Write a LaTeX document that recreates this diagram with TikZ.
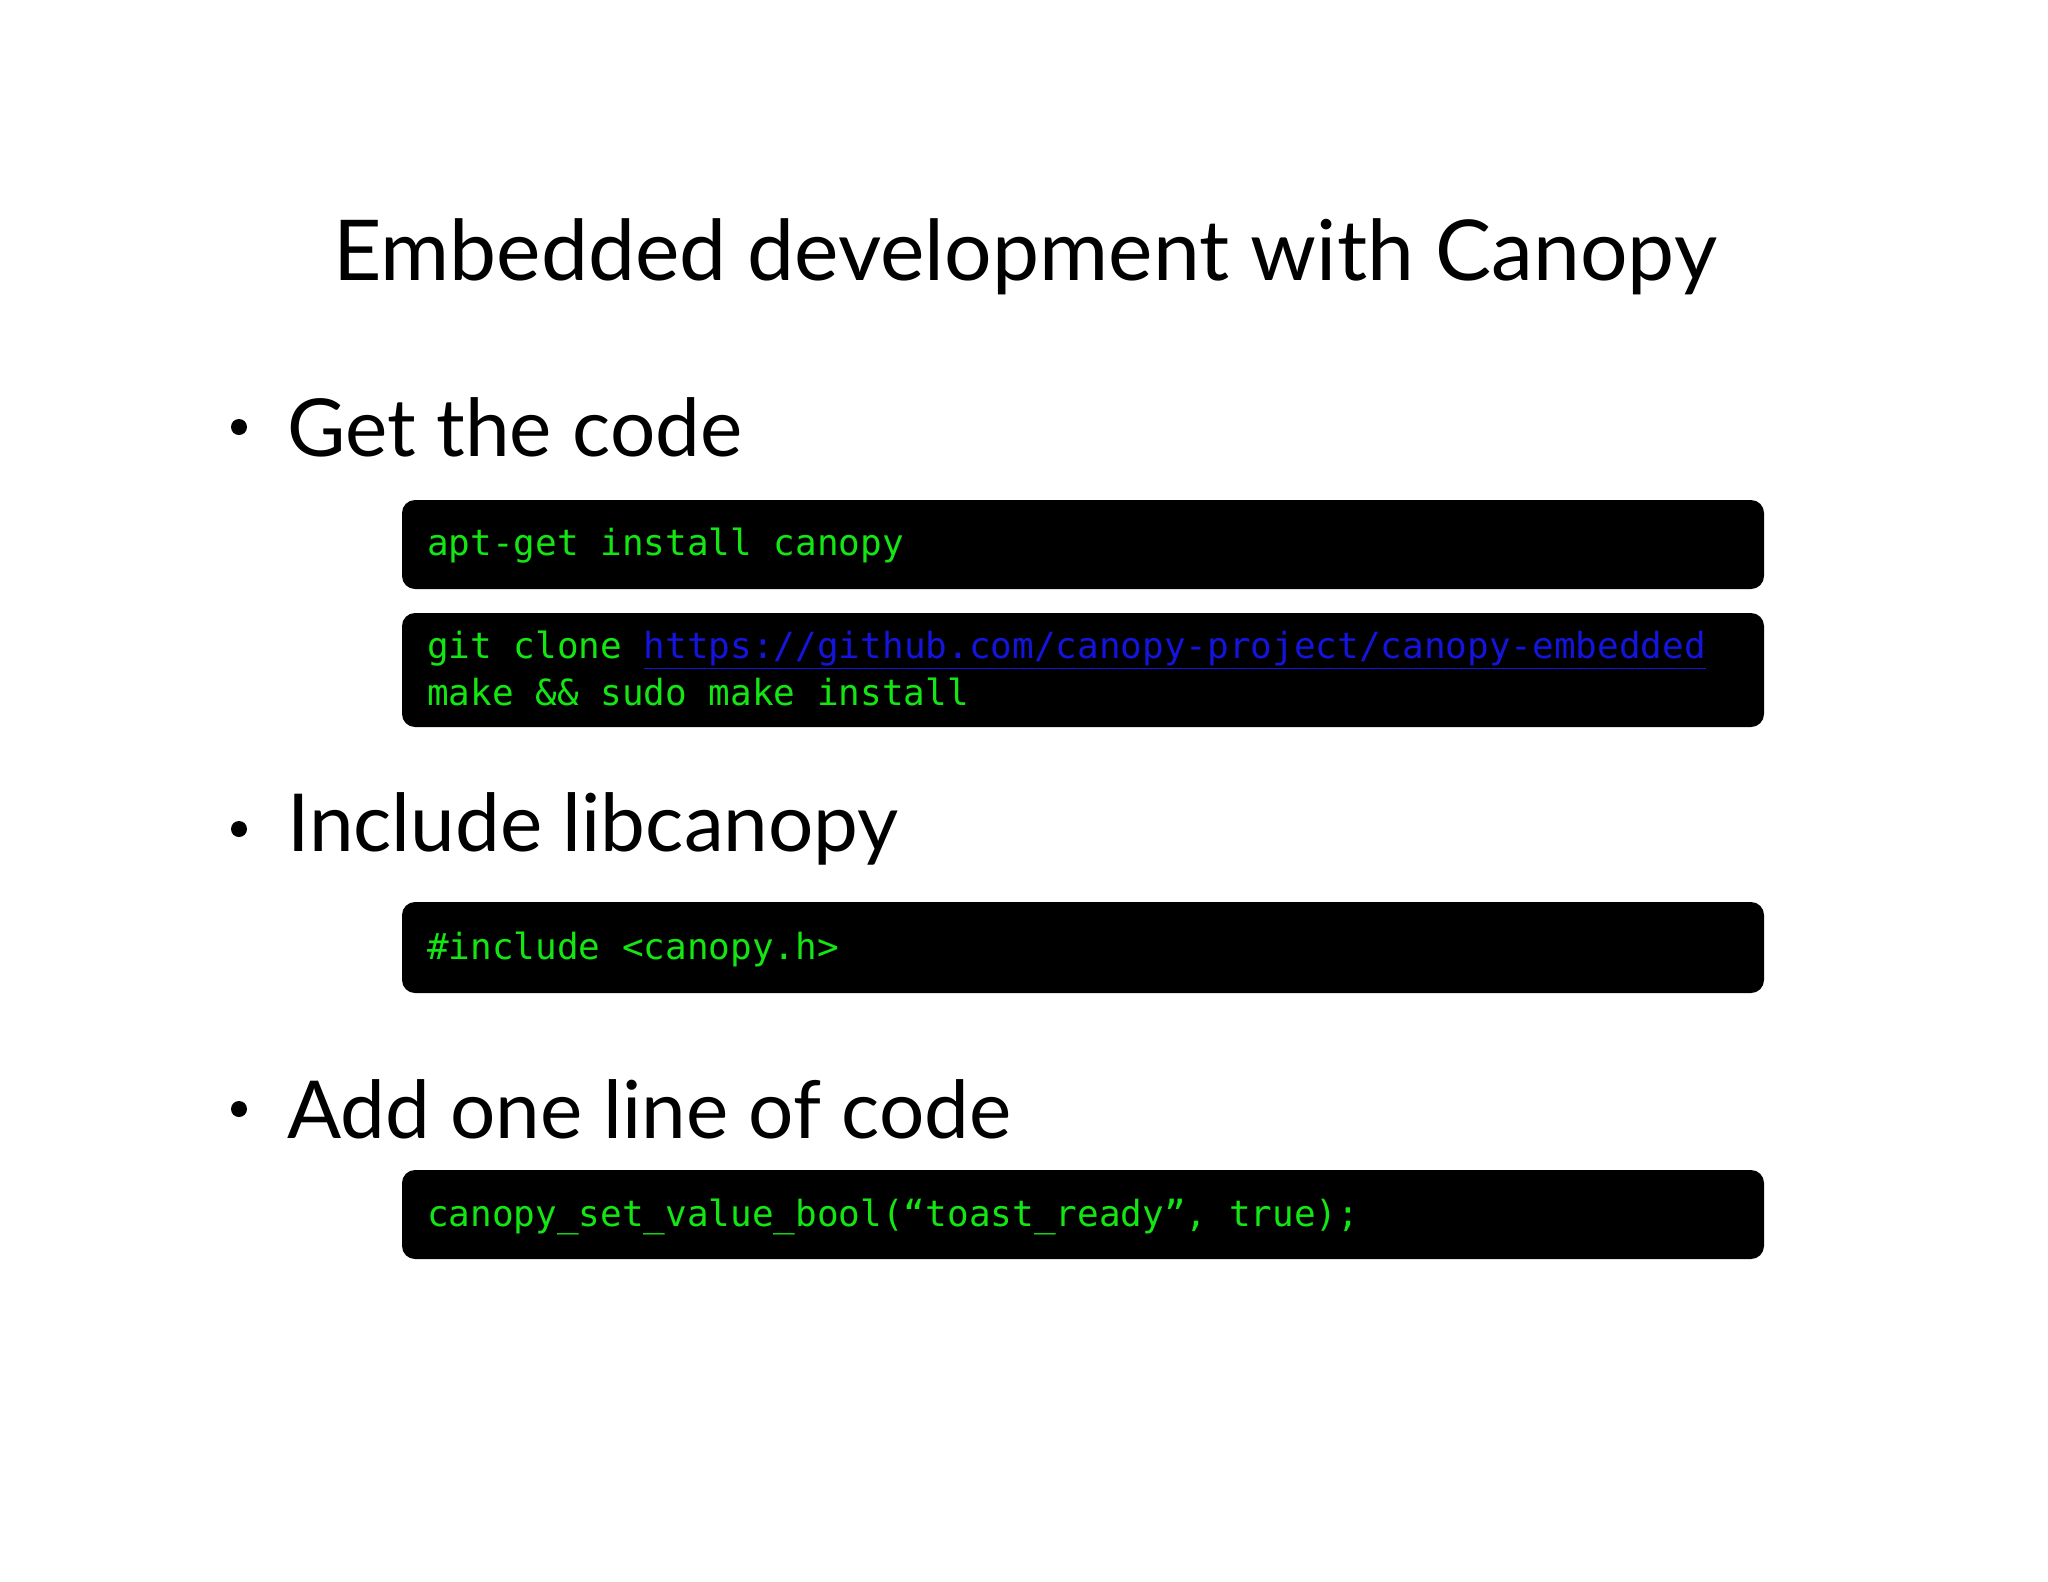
\documentclass[tikz,border=0pt]{standalone}
\usepackage{fontspec}
\setmainfont{Lato}
\newfontfamily\codefont{DejaVu Sans Mono}
\definecolor{codegreen}{RGB}{20,230,20}
\definecolor{linkblue}{RGB}{20,20,220}
\begin{document}
\begin{tikzpicture}[x=1pt,y=-1pt,
  codebox/.style={fill=black,rounded corners=13pt},
  codetext/.style={anchor=west,inner sep=0pt,text=codegreen,font=\codefont\fontsize{36}{44}\selectfont},
  bullettext/.style={anchor=west,inner sep=0pt,font=\fontsize{80}{90}\selectfont},
  dot/.style={circle,fill=black,inner sep=0pt,minimum size=16pt}]
\fill[white] (0,0) rectangle (2048,1582);
\useasboundingbox (0,0) rectangle (2048,1582);
\node[inner sep=0pt,font=\fontsize{84}{94}\selectfont] (title) at (1025,257) {Embedded development with Canopy};
\node[dot] (d1) at (239,427) {};
\node[bullettext] (b1) at (287,427) {Get the code};
\node[dot] (d2) at (239,829) {};
\node[bullettext] (b2) at (287,829) {Include libcanopy};
\node[dot] (d3) at (239,1109) {};
\node[bullettext] (b3) at (287,1109) {Add one line of code};
\fill[codebox] (402,500) rectangle (1764,589);
\fill[codebox] (402,613) rectangle (1764,727);
\fill[codebox] (402,902) rectangle (1764,993);
\fill[codebox] (402,1170) rectangle (1764,1259);
\node[codetext] (c1) at (427,546) {apt-get install canopy};
\node[codetext] (c2) at (427,650) {git clone \textcolor{linkblue}{\underline{https://github.com/canopy-project/canopy-embedded}}};
\node[codetext] (c3) at (427,692) {make \&\& sudo make install};
\node[codetext] (c4) at (427,949) {\#include <canopy.h>};
\node[codetext] (c5) at (427,1217) {canopy\_set\_value\_bool(“toast\_ready”, true);};
\end{tikzpicture}
\end{document}
